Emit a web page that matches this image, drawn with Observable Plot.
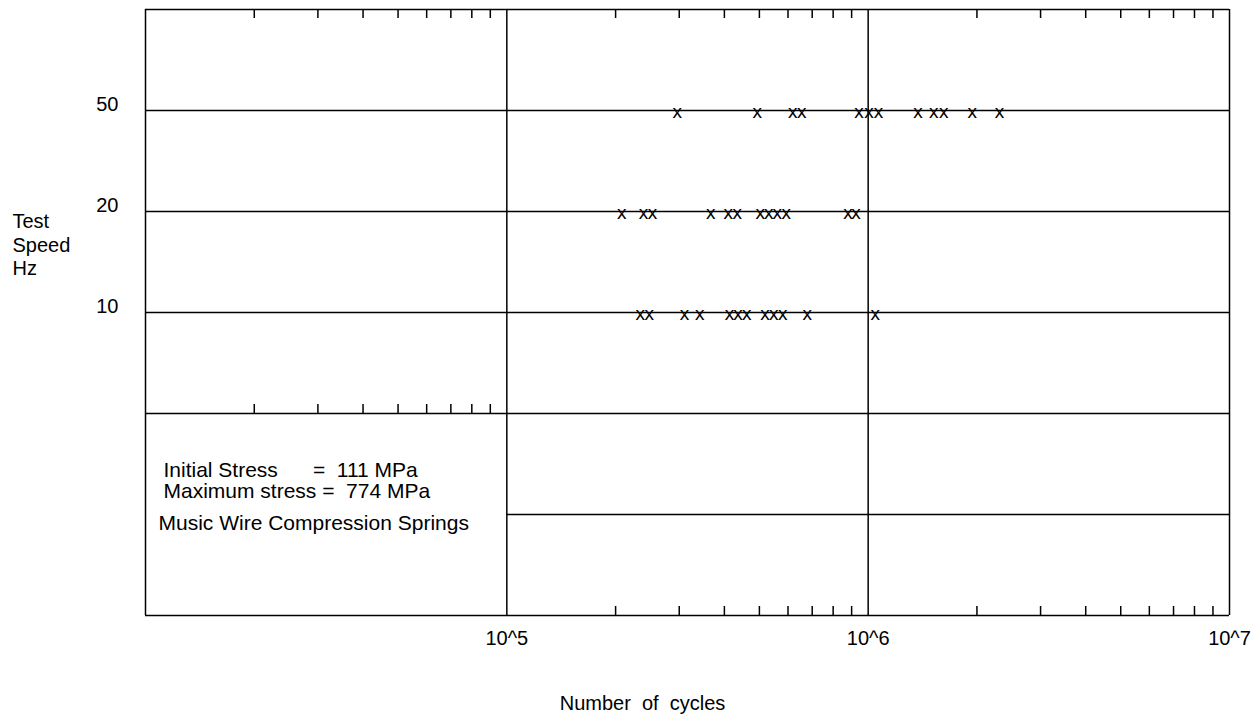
<!DOCTYPE html>
<html><head><meta charset="utf-8">
<script src="https://cdn.jsdelivr.net/npm/d3@7"></script>
<script src="https://cdn.jsdelivr.net/npm/@observablehq/plot@0.6"></script>
<style>
html,body{margin:0;padding:0;background:#fff;}
svg text{white-space:pre;}
</style></head><body><div id="chart"></div>
<script>
// ---- data ----
const speedLabels = ["50", "20", "10"];
const speedRows = [5, 4, 3];
const cycles50 = [2.96e5, 4.93e5, 6.18e5, 6.55e5, 9.44e5, 1.005e6, 1.068e6, 1.373e6, 1.52e6, 1.62e6, 1.94e6, 2.31e6];
const cycles20 = [2.08e5, 2.39e5, 2.53e5, 3.67e5, 4.10e5, 4.34e5, 5.03e5, 5.31e5, 5.60e5, 5.93e5, 8.79e5, 9.26e5];
const cycles10 = [2.34e5, 2.48e5, 3.10e5, 3.42e5, 4.13e5, 4.36e5, 4.61e5, 5.18e5, 5.48e5, 5.80e5, 6.78e5, 1.047e6];
const decades = [1e4, 1e5, 1e6, 1e7];
const xTickValues = [1e5, 1e6, 1e7];
const xTickLabels = ["10^5", "10^6", "10^7"];
const fullRows = [0, 2, 3, 4, 5, 6];
const partialRows = [1];
const minorMultipliers = [2, 3, 4, 5, 6, 7, 8, 9];
const marker = "x";
const yTitle = "Test\nSpeed\nHz";
const xTitle = "Number  of  cycles";
const notes = ["Initial Stress      =  111 MPa", "Maximum stress =  774 MPa"];
const caption = "Music Wire Compression Springs";

// ---- derived tables ----
const points = [
  ...cycles50.map(c => ({cycles: c, row: speedRows[0]})),
  ...cycles20.map(c => ({cycles: c, row: speedRows[1]})),
  ...cycles10.map(c => ({cycles: c, row: speedRows[2]}))
];
const minorFor = ds => ds.flatMap(d => minorMultipliers.map(m => d * m));
const minorAll = minorFor([1e4, 1e5, 1e6]);
const minorLeft = minorFor([1e4]);
const minorRight = minorFor([1e5, 1e6]);
const topRow = d3.max(fullRows);
const boxRow = 2;

const black = "#000";
const sw = 1.5;

const chart = Plot.plot({
  width: 1257,
  height: 714,
  marginLeft: 145,
  marginRight: 28,
  marginTop: 9,
  marginBottom: 99,
  x: {type: "log", domain: [1e4, 1e7], axis: null},
  y: {domain: [0, 6], axis: null},
  style: {fontFamily: "'Liberation Sans', Arial, sans-serif", fontSize: "20px", color: black, background: "#fff"},
  marks: [
    Plot.ruleY(fullRows, {y: d => d, stroke: black, strokeWidth: sw}),
    Plot.ruleY(partialRows, {y: d => d, x1: () => 1e5, x2: () => 1e7, stroke: black, strokeWidth: sw}),
    Plot.ruleX(decades, {x: d => d, stroke: black, strokeWidth: sw}),
    Plot.ruleX(minorAll, {x: d => d, y1: () => topRow, y2: () => topRow, insetBottom: -9, stroke: black, strokeWidth: sw}),
    Plot.ruleX(minorLeft, {x: d => d, y1: () => boxRow, y2: () => boxRow, insetTop: -9, stroke: black, strokeWidth: sw}),
    Plot.ruleX(minorRight, {x: d => d, y1: () => 0, y2: () => 0, insetTop: -9, stroke: black, strokeWidth: sw}),
    Plot.text(points, {x: "cycles", y: "row", text: () => marker, fontSize: 19, dy: 1, fill: black}),
    Plot.text(speedLabels, {y: (d, i) => speedRows[i], text: d => d, frameAnchor: "left", dx: -27, textAnchor: "end", lineAnchor: "bottom", fill: black}),
    Plot.text(xTickLabels, {x: (d, i) => xTickValues[i], text: d => d, frameAnchor: "bottom", dy: 23, lineAnchor: "middle", fill: black}),
    Plot.text([yTitle], {y: () => speedRows[1], text: d => d, frameAnchor: "left", dx: -133, textAnchor: "start", lineAnchor: "top", lineHeight: 1.18, fill: black}),
    Plot.text([xTitle], {text: d => d, frameAnchor: "bottom", dx: -45, dy: 88, lineAnchor: "middle", fill: black}),
    Plot.text([notes.join("\n")], {y: () => boxRow, text: d => d, frameAnchor: "left", dx: 18, dy: 84, textAnchor: "start", lineAnchor: "bottom", lineHeight: 1.0, fontSize: 21, fill: black}),
    Plot.text([caption], {y: () => boxRow, text: d => d, frameAnchor: "left", dx: 13, dy: 116, textAnchor: "start", lineAnchor: "bottom", fontSize: 21, fill: black})
  ]
});
document.getElementById("chart").appendChild(chart);
</script>
</body></html>
